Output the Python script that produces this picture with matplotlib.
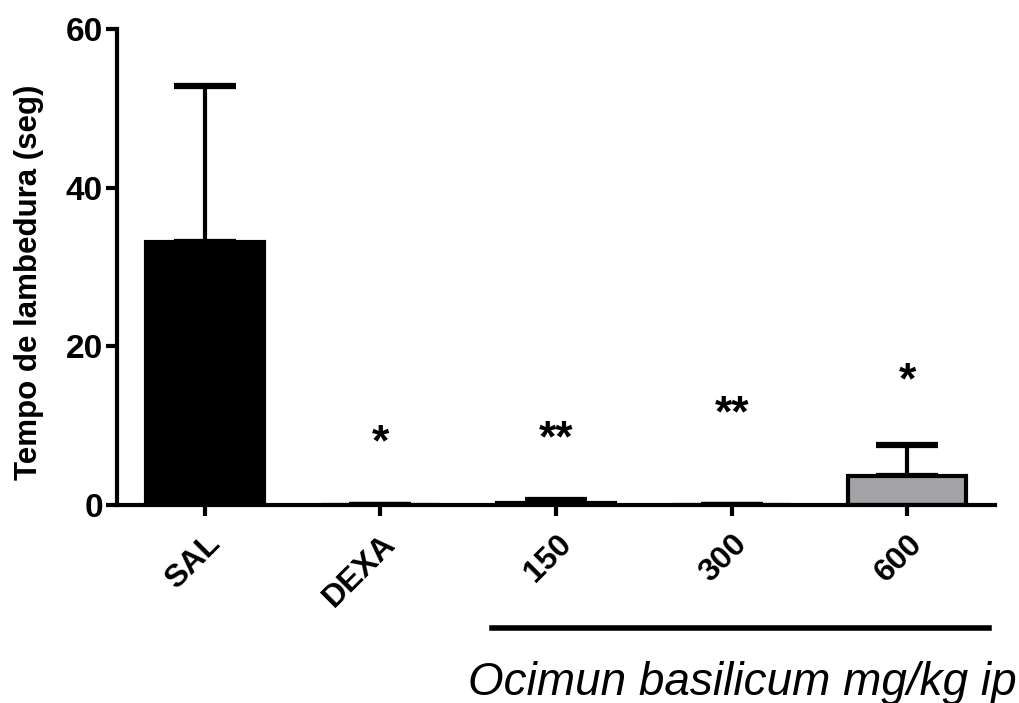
import numpy as np
import matplotlib
matplotlib.use('Agg')
from matplotlib import pyplot as plt

groups = ['SAL', 'DEXA', '150', '300', '600']
means = [33.2, 0.0, 0.2, 0.0, 3.6]
errors = [19.6, 0.0, 0.4, 0.0, 3.9]
colors = ['black', 'black', 'black', 'black', '#a3a3a7']
stars = ['', '*', '**', '**', '*']
star_y = [0, 6.2, 6.7, 9.9, 14.1]

plt.rcParams['font.family'] = ['Liberation Sans', 'DejaVu Sans']

fig = plt.figure(figsize=(10.19, 7.03), dpi=100)
ax = fig.add_axes([0.1148, 0.2817, 0.8617, 0.677])

x = np.arange(len(groups))
ax.bar(x, means, width=0.67, color=colors, edgecolor='black', linewidth=3, zorder=2)
ax.errorbar(x, means, yerr=[np.zeros(len(errors)), errors], fmt='none', ecolor='black',
            elinewidth=3, capsize=22, capthick=4.5, zorder=1)

for xi, s, sy in zip(x, stars, star_y):
    if s:
        ax.text(xi, sy, s, ha='center', va='baseline', fontsize=32, fontweight='bold')

ax.set_xlim(-0.5, 4.5)
ax.set_ylim(0, 60)
ax.set_yticks([0, 20, 40, 60])
ax.set_xticks(x)
ax.set_xticklabels(groups, rotation=45, ha='right', rotation_mode='anchor',
                   fontsize=23, fontweight='bold')
for lab in ax.get_yticklabels():
    lab.set_fontsize(24)
    lab.set_fontweight('bold')
ax.set_ylabel('Tempo de lambedura (seg)', fontsize=22.5, fontweight='bold')
ax.yaxis.set_label_coords(-0.083, 0.468)

for side in ['top', 'right']:
    ax.spines[side].set_visible(False)
for side in ['left', 'bottom']:
    ax.spines[side].set_linewidth(3)
ax.tick_params(width=3, length=8)
ax.tick_params(axis='x', pad=9)
ax.tick_params(axis='y', pad=2)

ax.plot([1.634, 4.465], [-15.5, -15.5], color='black', linewidth=4, clip_on=False)
fig.text(0.728, 0.0114, 'Ocimun basilicum mg/kg ip', ha='center', va='baseline',
         fontsize=33, fontstyle='italic')

fig.savefig('out.png', dpi=100)
